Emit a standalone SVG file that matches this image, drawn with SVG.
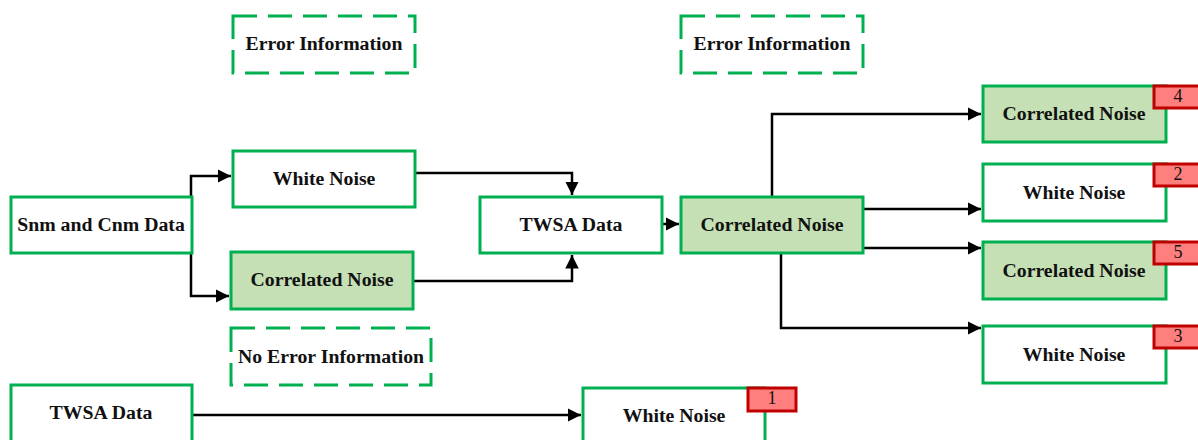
<svg xmlns="http://www.w3.org/2000/svg" width="1198" height="440" viewBox="0 0 1198 440">
<defs>
<style>
.box{fill:#ffffff;stroke:#00b050;stroke-width:3}
.green{fill:#c5e0b4;stroke:#00b050;stroke-width:3}
.dash{fill:none;stroke:#00b050;stroke-width:3;stroke-dasharray:24 11}
.badge{fill:#ff7f7f;stroke:#c00000;stroke-width:3}
.lbl{font-family:"Liberation Serif","Times New Roman",serif;font-weight:bold;font-size:19.8px;fill:#111;text-anchor:middle;dominant-baseline:central}
.num{font-family:"Liberation Serif","Times New Roman",serif;font-size:18px;fill:#111;text-anchor:middle;dominant-baseline:central}
.conn{fill:none;stroke:#000;stroke-width:2.5}
</style>
<marker id="arr" viewBox="0 0 10 10" refX="10" refY="5" markerWidth="5.4" markerHeight="5.4" markerUnits="strokeWidth" orient="auto">
<path d="M0,0 L10,5 L0,10 z" fill="#000"/>
</marker>
</defs>
<rect width="1198" height="440" fill="#ffffff"/>

<g id="connectors">
<path class="conn" d="M191,197 V176 H231" marker-end="url(#arr)"/>
<path class="conn" d="M191,253 V296 H229" marker-end="url(#arr)"/>
<path class="conn" d="M415,173 H572 V195" marker-end="url(#arr)"/>
<path class="conn" d="M413,281 H572 V255" marker-end="url(#arr)"/>
<path class="conn" d="M662,224 H679" marker-end="url(#arr)"/>
<path class="conn" d="M772,197 V114 H981" marker-end="url(#arr)"/>
<path class="conn" d="M863,209 H981" marker-end="url(#arr)"/>
<path class="conn" d="M863,248 H981" marker-end="url(#arr)"/>
<path class="conn" d="M781,253 V328 H981" marker-end="url(#arr)"/>
<path class="conn" d="M192,415 H581" marker-end="url(#arr)"/>
</g>

<g id="error-info-1">
<rect class="dash" x="233" y="16" width="182" height="57"/>
<text class="lbl" x="324" y="42.5">Error Information</text>
</g>
<g id="error-info-2">
<rect class="dash" x="681" y="16" width="182" height="57"/>
<text class="lbl" x="772" y="42.5">Error Information</text>
</g>
<g id="no-error-info">
<rect class="dash" x="231" y="328" width="200" height="57"/>
<text class="lbl" x="331" y="355.5">No Error Information</text>
</g>

<g id="snm-cnm-data">
<rect class="box" x="11" y="197" width="181" height="56"/>
<text class="lbl" x="101" y="223.5">Snm and Cnm Data</text>
</g>
<g id="white-noise-left">
<rect class="box" x="233" y="151" width="182" height="56"/>
<text class="lbl" x="324" y="177.5">White Noise</text>
</g>
<g id="correlated-noise-left">
<rect class="green" x="231" y="252" width="182" height="57"/>
<text class="lbl" x="322" y="278.5">Correlated Noise</text>
</g>
<g id="twsa-data-mid">
<rect class="box" x="480" y="197" width="182" height="56"/>
<text class="lbl" x="571" y="223.5">TWSA Data</text>
</g>
<g id="correlated-noise-center">
<rect class="green" x="681" y="197" width="182" height="56"/>
<text class="lbl" x="772" y="223.5">Correlated Noise</text>
</g>

<g id="correlated-noise-4">
<rect class="green" x="983" y="86" width="183" height="56"/>
<text class="lbl" x="1074" y="112.5">Correlated Noise</text>
<rect class="badge" x="1154" y="86" width="48" height="22"/>
<text class="num" x="1178" y="96">4</text>
</g>
<g id="white-noise-2">
<rect class="box" x="983" y="164" width="183" height="57"/>
<text class="lbl" x="1074" y="191.5">White Noise</text>
<rect class="badge" x="1154" y="164" width="48" height="22"/>
<text class="num" x="1178" y="174">2</text>
</g>
<g id="correlated-noise-5">
<rect class="green" x="983" y="242" width="183" height="57"/>
<text class="lbl" x="1074" y="269.5">Correlated Noise</text>
<rect class="badge" x="1154" y="242" width="48" height="22"/>
<text class="num" x="1178" y="252">5</text>
</g>
<g id="white-noise-3">
<rect class="box" x="983" y="326" width="183" height="57"/>
<text class="lbl" x="1074" y="353.5">White Noise</text>
<rect class="badge" x="1154" y="326" width="48" height="22"/>
<text class="num" x="1178" y="336">3</text>
</g>

<g id="twsa-data-bottom">
<rect class="box" x="11" y="385" width="181" height="70"/>
<text class="lbl" x="101" y="411.5">TWSA Data</text>
</g>
<g id="white-noise-1">
<rect class="box" x="583" y="388" width="182" height="70"/>
<text class="lbl" x="674" y="414.5">White Noise</text>
<rect class="badge" x="748" y="388" width="48" height="23"/>
<text class="num" x="772" y="398">1</text>
</g>
</svg>
